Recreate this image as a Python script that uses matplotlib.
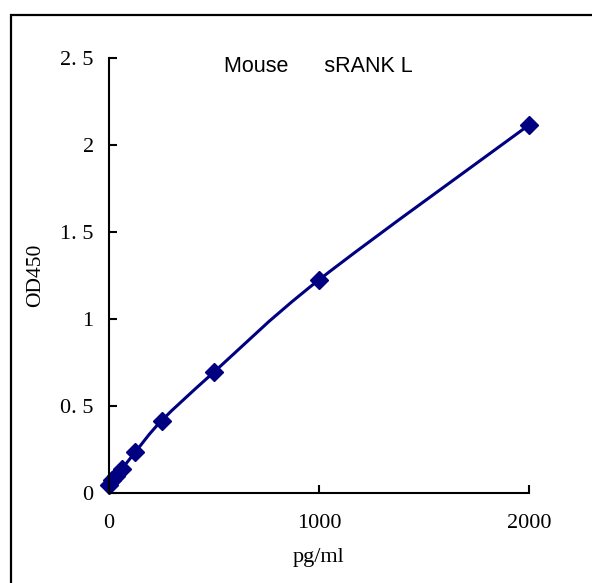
import matplotlib
matplotlib.use("Agg")
import matplotlib.pyplot as plt
import numpy as np
from matplotlib.patches import PathPatch, Rectangle
from matplotlib.path import Path

# standard curve
conc = [0, 15.6, 31.25, 62.5, 125, 250, 500, 1000, 2000]
od450 = [0.045, 0.075, 0.10, 0.14, 0.235, 0.415, 0.695, 1.225, 2.115]
xticks = [0, 1000, 2000]
yticks = [0, 0.5, 1, 1.5, 2, 2.5]
ytick_labels = ["0", "0. 5", "1", "1. 5", "2", "2. 5"]

NAVY = "#000080"
SERIF = "Liberation Serif"


def smooth_path(xs, ys, tension=1 / 6):
    """Excel-like smoothed line: Catmull-Rom as cubic Bezier segments."""
    pts = np.column_stack([xs, ys]).astype(float)
    verts = [pts[0]]
    codes = [Path.MOVETO]
    n = len(pts)
    for i in range(n - 1):
        p0 = pts[max(i - 1, 0)]
        p1 = pts[i]
        p2 = pts[i + 1]
        p3 = pts[min(i + 2, n - 1)]
        c1 = p1 + (p2 - p0) * tension
        c2 = p2 - (p3 - p1) * tension
        verts += [c1, c2, p2]
        codes += [Path.CURVE4] * 3
    return Path(verts, codes)


fig = plt.figure(figsize=(5.92, 5.83), dpi=100)
fig.patches.append(Rectangle((10.5 / 592, -0.1), 1.2, 1.1 - 15 / 583,
                             transform=fig.transFigure, fill=False,
                             lw=1.6, ec="black"))

ax = fig.add_axes([109 / 592, 1 - 493 / 583, 420 / 592, 435 / 583])
ax.add_patch(PathPatch(smooth_path(conc, od450), fill=False, ec=NAVY, lw=2.2))
ax.plot(conc, od450, ls="none", marker="D", ms=9, color=NAVY, clip_on=False)

ax.set_xlim(0, 2000)
ax.set_ylim(0, 2.5)
ax.set_xticks(xticks)
ax.set_yticks(yticks)
ax.set_yticklabels(ytick_labels)
for side in ("top", "right"):
    ax.spines[side].set_visible(False)
for side in ("left", "bottom"):
    ax.spines[side].set_linewidth(1.5)
ax.tick_params(direction="in", length=6, width=1.5, labelsize=16)
ax.tick_params(axis="x", pad=15)
ax.tick_params(axis="y", pad=11)
for lab in ax.get_xticklabels() + ax.get_yticklabels():
    lab.set_family(SERIF)

ax.set_xlabel("pg/ml", family=SERIF, fontsize=16, labelpad=11)
ax.set_ylabel("OD450", family=SERIF, fontsize=15.5, labelpad=11)
fig.text(318 / 592, 1 - 66 / 583, "Mouse      sRANK L", family="Liberation Sans",
         fontsize=15.5, ha="center", va="center")

fig.savefig("out.png", dpi=100)
